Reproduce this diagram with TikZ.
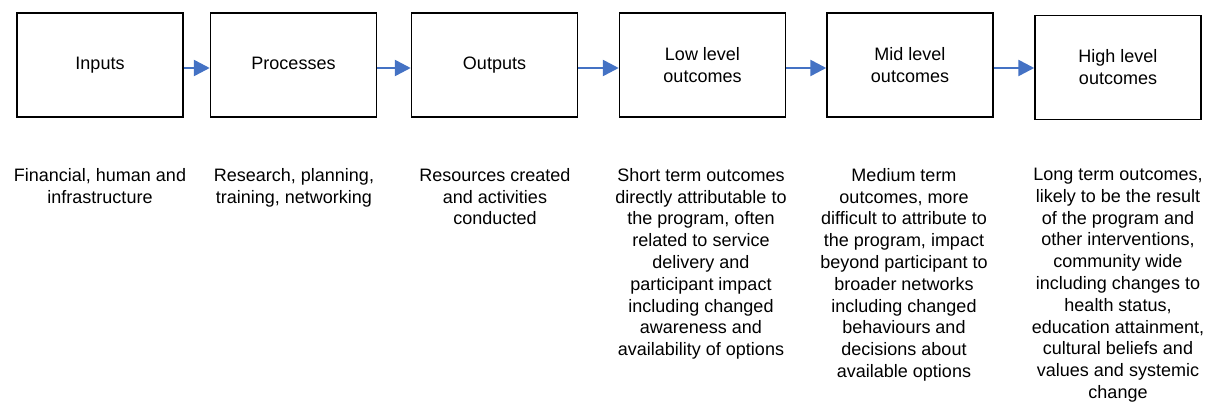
\documentclass[tikz,border=0pt]{standalone}
\usepackage{fontspec}
\setmainfont{Liberation Sans}
\usetikzlibrary{arrows.meta}
\definecolor{arrowblue}{RGB}{68,114,196}
\begin{document}
\begin{tikzpicture}[x=1pt,y=-1pt,
  stagebox/.style={draw=black,line width=1.5pt,minimum width=166pt,minimum height=104pt,inner sep=0pt,align=center,font=\fontsize{18}{22}\selectfont},
  oneline/.style={text height=13pt,text depth=4pt},
  desc/.style={anchor=north,inner sep=0pt,align=center,font=\fontsize{18}{21.8}\selectfont},
  flow/.style={draw=arrowblue,line width=2.6pt,-{Triangle[length=16pt,width=16pt]}}]
\useasboundingbox (0,0) rectangle (1205,403);
\node[stagebox,oneline] (b1) at (100,65) {Inputs};
\node[stagebox,oneline] (b2) at (293.5,65) {Processes};
\node[stagebox,oneline] (b3) at (494.5,65) {Outputs};
\node[stagebox] (b4) at (702.5,65) {Low level\\outcomes};
\node[stagebox] (b5) at (910,65) {Mid level\\outcomes};
\node[stagebox] (b6) at (1118,67.5) {High level\\outcomes};
\draw[flow] ([yshift=-3pt]b1.east) -- ([yshift=-3pt]b1.east -| b2.west);
\draw[flow] ([yshift=-3pt]b2.east) -- ([yshift=-3pt]b2.east -| b3.west);
\draw[flow] ([yshift=-3pt]b3.east) -- ([yshift=-3pt]b3.east -| b4.west);
\draw[flow] ([yshift=-3pt]b4.east) -- ([yshift=-3pt]b4.east -| b5.west);
\draw[flow] ([yshift=-3pt]b5.east) -- ([yshift=-3pt]b5.east -| b6.west);
\node[desc] (d1) at (100,168) {Financial, human and\\infrastructure};
\node[desc] (d2) at (294,168) {Research, planning,\\training, networking};
\node[desc] (d3) at (495,168) {Resources created\\and activities\\conducted};
\node[desc] (d4) at (701,168) {Short term outcomes\\directly attributable to\\the program, often\\related to service\\delivery and\\participant impact\\including changed\\awareness and\\availability of options};
\node[desc] (d5) at (904,168) {Medium term\\outcomes, more\\difficult to attribute to\\the program, impact\\beyond participant to\\broader networks\\including changed\\behaviours and\\decisions about\\available options};
\node[desc] (d6) at (1118,168) {Long term outcomes,\\likely to be the result\\of the program and\\other interventions,\\community wide\\including changes to\\health status,\\education attainment,\\cultural beliefs and\\values and systemic\\change};
\end{tikzpicture}
\end{document}
